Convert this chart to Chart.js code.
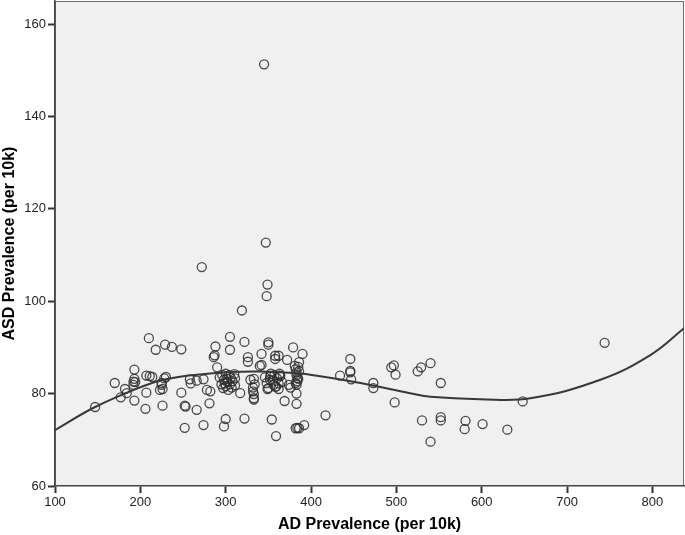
<!DOCTYPE html>
<html>
<head>
<meta charset="utf-8">
<script src="https://cdn.jsdelivr.net/npm/chart.js@4/dist/chart.umd.min.js"></script>
<style>
  html, body { margin: 0; padding: 0; background: #ffffff; }
  canvas { display: block; }
</style>
</head>
<body>
<canvas id="c" width="685" height="535"></canvas>
<script>
// AD prevalence (per 10k) for each site
const adPrevalence = [
  147,170,182,184,177,193,192,192,193,194,193,207,206,210,218,207,211,214,226,223,
  225,225,226,228,230,229,237,248,248,252,253,252,258,259,266,266,274,274,272,278,
  282,281,288,287,286,290,298,300,305,305,311,317,319,322,322,326,326,329,333,332,
  332,333,333,340,342,342,345,347,349,348,350,350,349,352,352,350,356,359,354,359,
  358,362,358,362,358,363,363,369,372,374,376,379,382,384,386,392,383,383,383,386,
  390,417,434,446,446,446,447,473,473,494,497,499,498,525,529,540,552,530,552,552,
  540,581,580,601,630,648,744,
  293,295,296,297,298,299,300,300,301,302,303,304,305,306,307,308,310,311,
  334,333,
  346,348,353,355,357,360,362,364,366,
  381,382,383,383,384,384,385,382,386,385
];
// ASD prevalence (per 10k) for each site
const asdPrevalence = [
  77.1,82.3,81.0,80.1,79.2,78.5,82.6,81.9,83.2,82.5,85.2,80.2,76.7,92.0,89.5,83.9,83.8,83.6,77.4,80.8,
  81.9,82.3,81.0,83.3,83.6,90.6,90.1,89.6,80.2,77.4,77.2,72.6,83.1,82.2,82.8,76.5,73.2,83.1,107.4,80.8,
  80.5,77.9,90.2,88.3,87.9,85.7,72.9,74.5,92.3,89.5,83.3,80.1,98.0,91.2,74.6,87.9,86.9,83.0,83.2,81.3,
  80.5,79.9,79.0,86.0,88.6,86.2,151.3,112.7,103.6,101.1,91.1,90.6,81.0,83.7,83.0,81.2,81.9,81.5,74.4,70.8,
  88.2,88.2,87.5,81.0,81.5,84.3,83.9,78.4,87.3,81.9,81.3,90.0,72.5,72.6,72.5,73.2,77.8,80.0,81.9,86.8,
  88.6,75.3,83.9,87.5,84.9,84.6,83.1,82.3,81.2,85.7,86.1,84.1,78.1,84.8,85.7,86.6,82.3,74.2,74.9,74.2,
  69.6,74.1,72.3,73.4,72.2,78.3,91.0,
  83.5,82.0,84.0,81.2,83.0,82.2,84.3,81.6,83.2,82.5,80.8,84.0,82.0,83.4,81.3,82.7,84.2,81.8,
  82.0,78.7,
  83.5,82.3,84.3,82.8,84.0,83.3,82.2,83.8,82.5,
  86.0,85.3,84.6,84.0,83.4,82.7,85.8,82.3,84.8,83.2
];
// Fit line (cubic)
const fitX = [100,147,203,227,266,305,340,364,399,458,516,540,598,657,739,798,838];
const fitY = [72.1,77.1,81.6,83.0,84.1,84.7,84.8,84.6,84.1,82.3,80.1,79.3,78.8,79.0,83.0,88.4,94.3];
// Tick labels
const xTicks = [100,200,300,400,500,600,700,800];
const yTicks = [60,80,100,120,140,160];

const scatterPts = adPrevalence.map((x, i) => ({ x: x, y: asdPrevalence[i] }));
const fitPts = fitX.map((x, i) => ({ x: x, y: fitY[i] }));

const bgPlugin = {
  id: 'plotBg',
  beforeDraw(chart) {
    const ctx = chart.ctx, a = chart.chartArea;
    ctx.save();
    ctx.fillStyle = '#ffffff';
    ctx.fillRect(0, 0, chart.width, chart.height);
    ctx.fillStyle = '#f0f0f0';
    ctx.fillRect(a.left, a.top, a.right - a.left, a.bottom - a.top);
    ctx.strokeStyle = '#6e6e6e';
    ctx.lineWidth = 1;
    ctx.strokeRect(a.left + 0.5, a.top + 0.5, a.right - a.left - 1, a.bottom - a.top - 1);
    ctx.restore();
  }
};

const tickFont = { family: 'Liberation Sans, Arial, sans-serif', size: 13 };
const titleFont = { family: 'Liberation Sans, Arial, sans-serif', size: 16, weight: 'bold' };

new Chart(document.getElementById('c'), {
  type: 'scatter',
  data: {
    datasets: [
      {
        data: scatterPts,
        pointRadius: 4.5,
        pointHoverRadius: 4.5,
        pointBorderWidth: 1.3,
        pointBorderColor: 'rgba(45,45,45,0.85)',
        pointBackgroundColor: 'rgba(0,0,0,0)',
        showLine: false,
        order: 2
      },
      {
        type: 'line',
        data: fitPts,
        borderColor: '#383838',
        borderWidth: 2,
        pointRadius: 0,
        tension: 0.4,
        fill: false,
        order: 1
      }
    ]
  },
  options: {
    responsive: false,
    animation: false,
    devicePixelRatio: 1,
    layout: { autoPadding: false, padding: { top: 1, right: 1, left: 0, bottom: 0 } },
    plugins: { legend: { display: false }, tooltip: { enabled: false } },
    scales: {
      x: {
        type: 'linear',
        min: 100,
        max: 837,
        afterBuildTicks(scale) { scale.ticks = xTicks.map(v => ({ value: v })); },
        afterFit(scale) { scale.height = 49; scale.paddingRight = 0; scale.paddingLeft = 0; },
        ticks: { font: tickFont, color: '#222', padding: 2, maxRotation: 0 },
        grid: { drawOnChartArea: false, drawTicks: true, tickLength: 7, tickColor: '#333', tickWidth: 2 },
        border: { color: '#444', width: 1.5 },
        title: { display: true, text: 'AD Prevalence (per 10k)', font: titleFont, color: '#000', padding: { top: 0, bottom: 1 } }
      },
      y: {
        type: 'linear',
        min: 60,
        max: 165,
        afterBuildTicks(scale) { scale.ticks = yTicks.map(v => ({ value: v })); },
        afterFit(scale) { scale.width = 55; scale.paddingTop = 0; scale.paddingBottom = 0; },
        ticks: { font: tickFont, color: '#222', padding: 2 },
        grid: { drawOnChartArea: false, drawTicks: true, tickLength: 7, tickColor: '#333', tickWidth: 2 },
        border: { color: '#444', width: 1.5 },
        title: { display: true, text: 'ASD Prevalence (per 10k)', font: titleFont, color: '#000', padding: { top: 0, bottom: 0 } }
      }
    }
  },
  plugins: [bgPlugin]
});
</script>
</body>
</html>
